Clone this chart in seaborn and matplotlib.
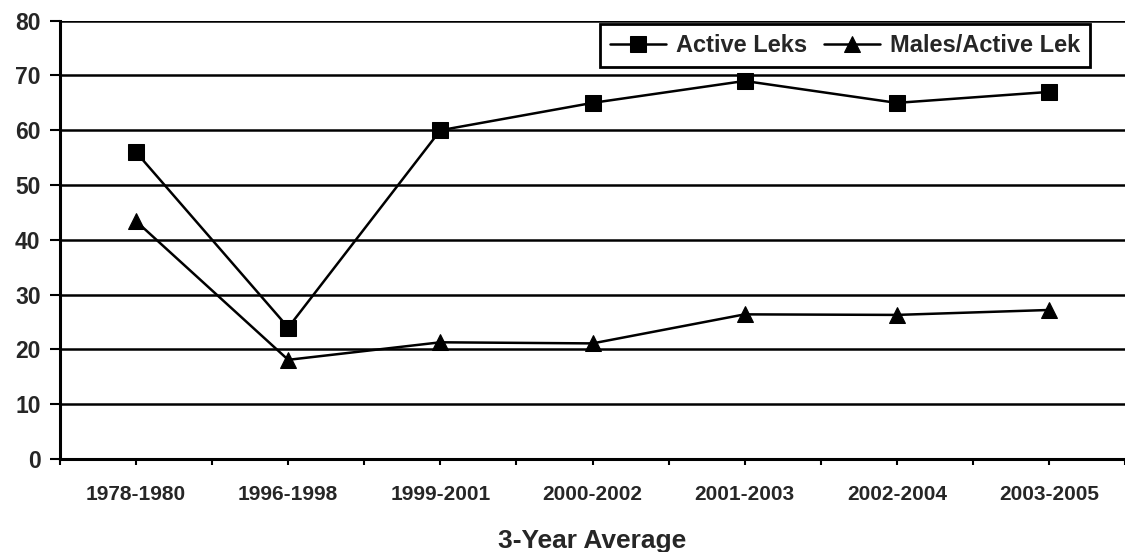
import pandas as pd
import matplotlib.pyplot as plt
import seaborn as sns

# data
periods = ['1978-1980', '1996-1998', '1999-2001', '2000-2002',
           '2001-2003', '2002-2004', '2003-2005']
active_leks = [56, 24, 60, 65, 69, 65, 67]
males_per_lek = [43.4, 18.1, 21.3, 21.1, 26.4, 26.3, 27.2]

df = pd.DataFrame({'Period': periods,
                   'Active Leks': active_leks,
                   'Males/Active Lek': males_per_lek})

sns.set_style('white')
plt.rcParams['font.family'] = ['Liberation Sans', 'DejaVu Sans']
plt.rcParams['font.weight'] = 'bold'

fig = plt.figure(figsize=(11.25, 5.52), dpi=100)
ax = fig.add_axes([60 / 1125, 1 - 459 / 552, 1 - 60 / 1125, (459 - 20.7) / 552])

sns.lineplot(data=df, x='Period', y='Active Leks', ax=ax, color='black',
             linewidth=1.8, marker='s', markersize=11, markeredgecolor='black',
             label='Active Leks')
sns.lineplot(data=df, x='Period', y='Males/Active Lek', ax=ax, color='black',
             linewidth=1.8, marker='^', markersize=11, markeredgecolor='black',
             label='Males/Active Lek')

# axes limits / grid
ax.set_xlim(-0.5, 6.5)
ax.set_ylim(0, 80)
ax.set_yticks(range(0, 81, 10))
ax.set_xticks(range(len(periods)))
ax.set_xticklabels(periods)
ax.set_xticks([i - 0.5 for i in range(len(periods) + 1)], minor=True)
ax.yaxis.grid(True, color='black', linewidth=1.8)
ax.set_axisbelow(True)

for side in ['top', 'right']:
    ax.spines[side].set_visible(False)
for side in ['left', 'bottom']:
    ax.spines[side].set_color('black')
    ax.spines[side].set_linewidth(2.2)

ax.tick_params(axis='y', which='major', left=True, length=7, width=1.5,
               color='black', labelsize=16.5, pad=7)
ax.tick_params(axis='x', which='both', bottom=True, length=4, width=1.5,
               color='black', direction='out')
ax.tick_params(axis='x', which='major', labelsize=15, pad=15)
for lbl in ax.get_xticklabels() + ax.get_yticklabels():
    lbl.set_fontweight('bold')

ax.set_ylabel('')
ax.set_xlabel('3-Year Average', fontsize=19, fontweight='bold', labelpad=18)

leg = ax.legend(loc='upper right', bbox_to_anchor=(0.967, 0.9925),
                borderaxespad=0, ncol=2, frameon=True, fancybox=False,
                fontsize=17, handlelength=2.4, columnspacing=0.7,
                handletextpad=0.4, borderpad=0.42)
leg.get_frame().set_edgecolor('black')
leg.get_frame().set_linewidth(2)
leg.get_frame().set_alpha(1)
for t in leg.get_texts():
    t.set_fontweight('bold')

fig.savefig('out.png', dpi=100)
